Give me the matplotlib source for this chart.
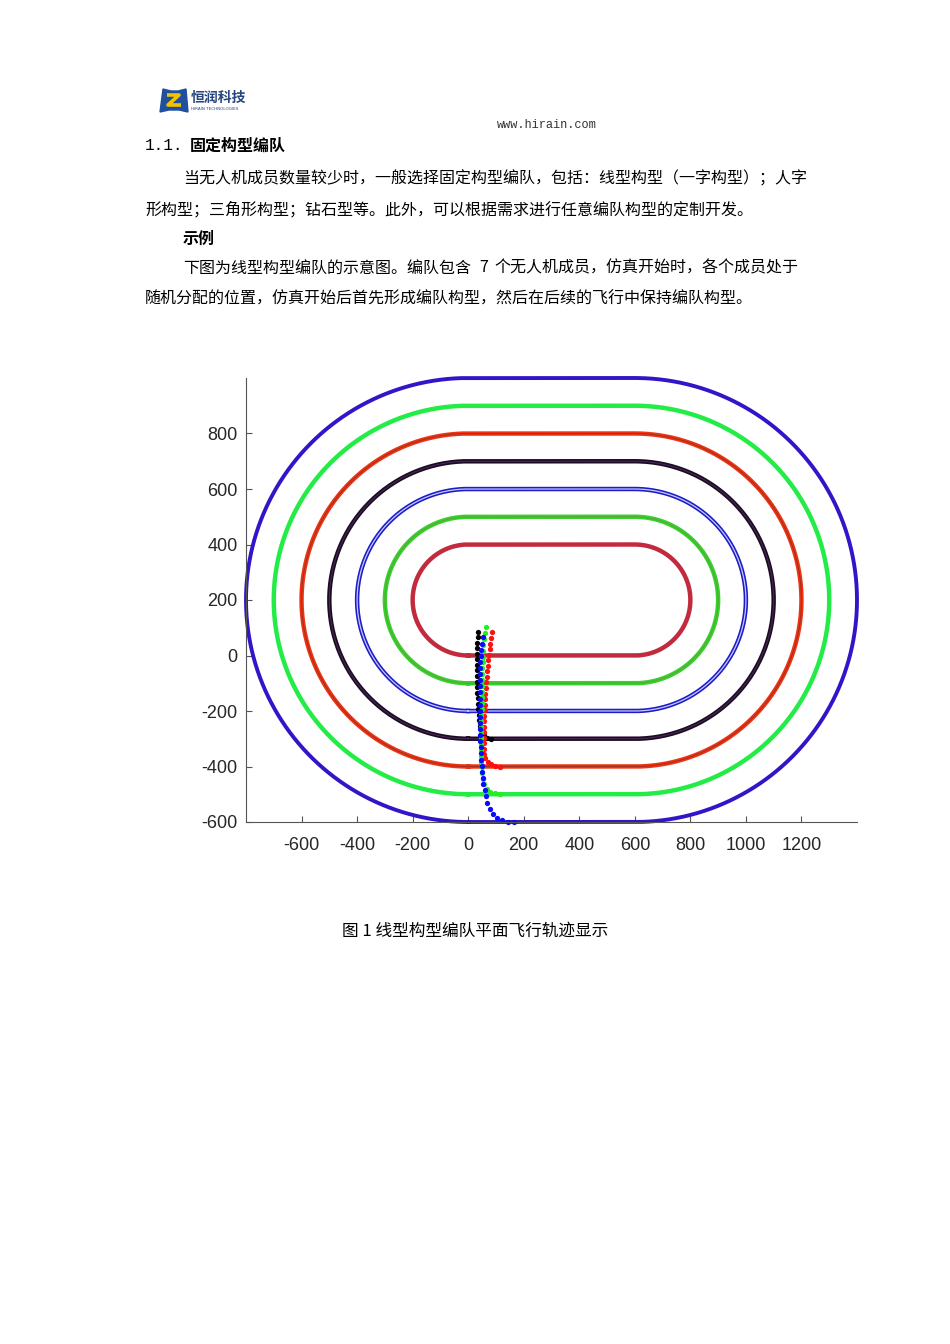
import numpy as np
import matplotlib.pyplot as plt
from matplotlib.patches import Polygon

plt.rcParams['font.family'] = ['Noto Sans CJK SC', 'DejaVu Sans']

# ---- track data: radius of each stadium loop, straight part from x=0 to x=600, centre y=200
track_radius = [200, 300, 400, 500, 600, 700, 800]
track_color = ['#c22a3e', '#35d22e', '#1c1cc8', '#1a0c22', '#ee3414', '#24ec46', '#3414c8']
track_inner = [None, '#5fa536', '#c8c8ff', '#4b2456', '#a8301a', None, None]
straight_x = [0, 600]
centre_y = 200

# ---- start-up trajectories of the four visible members
black_x = [36, 34, 33, 32, 31, 31, 31, 31, 31, 32, 32, 33, 34, 35, 36, 38, 40, 43, 48, 56, 68, 82]
black_y = [86, 66, 46, 26, 6, -14, -34, -54, -74, -94, -114, -134, -154, -174, -194, -214, -234,
           -254, -272, -287, -296, -300]
blue_x = [55, 50, 47, 45, 44, 43, 43, 42, 42, 42, 42, 42, 42, 43, 43, 43, 44, 44, 45, 46, 47, 48,
          50, 52, 55, 59, 63, 69, 77, 88, 103, 121, 142, 165]
blue_y = [65, 43, 21, -1, -23, -45, -67, -89, -111, -133, -155, -177, -199, -221, -243, -265, -287,
          -309, -331, -353, -375, -397, -419, -441, -463, -485, -507, -530, -552, -571, -585, -594,
          -599, -600]
green_x = [64, 60, 57, 55, 53, 52, 52, 51, 51, 50, 50, 49, 49, 48, 48, 47, 47, 47, 46, 46, 46, 46,
           46, 47, 48, 50, 53, 58, 66, 78, 95, 115]
green_y = [101, 80, 59, 38, 17, -4, -25, -46, -67, -88, -109, -130, -151, -172, -193, -214, -235,
           -256, -277, -298, -319, -340, -361, -382, -403, -424, -445, -464, -480, -491, -497, -500]
red_x = [85, 82, 79, 77, 75, 73, 71, 69, 67, 65, 63, 62, 61, 60, 59, 58, 57, 57, 56, 56, 56, 56,
         58, 62, 70, 82, 97, 115]
red_y = [83, 63, 43, 23, 3, -17, -37, -57, -77, -97, -117, -137, -157, -177, -197, -217, -237,
         -257, -277, -297, -317, -337, -355, -370, -382, -391, -397, -400]

x_ticks = [-600, -400, -200, 0, 200, 400, 600, 800, 1000, 1200]
y_ticks = [-600, -400, -200, 0, 200, 400, 600, 800]

W, H = 950, 1344
fig = plt.figure(figsize=(W / 100, H / 100), dpi=100)


def fx(px):
    return px / W


def fy(py):
    return 1 - py / H


# ---- page header
logo = fig.add_axes([fx(159), fy(113), 30 / W, 26 / H])
logo.set_xlim(0, 30)
logo.set_ylim(0, 26)
logo.axis('off')
logo.add_patch(Polygon([[1, 1], [4, 24], [12, 22], [19, 22], [27, 24], [29, 1], [20, 3], [10, 3]],
                       closed=True, color='#1f4f9e'))
logo.plot([8, 20, 9, 22], [18, 18, 8, 8], color='#f3c300', lw=2.6, solid_capstyle='butt')
fig.text(fx(191), fy(98), '恒润科技', fontsize=10, fontweight='bold', color='#27457e',
         va='center', ha='left')
fig.text(fx(191), fy(108.5), 'HIRAIN TECHNOLOGIES', fontsize=3, color='#27457e',
         va='center', ha='left', family='DejaVu Sans')
fig.text(fx(497), fy(125), 'www.hirain.com', fontsize=8.6, color='#333333',
         family='Liberation Mono', va='center', ha='left')

fig.text(fx(145), fy(146), '1.1.', fontsize=11.5, family='Liberation Mono', va='center', ha='left')
fig.text(fx(190), fy(146), '固定构型编队', fontsize=11.5, fontweight='bold', va='center', ha='left')

body = [
    (183, 179, '当无人机成员数量较少时，一般选择固定构型编队，包括：线型构型（一字构型）；人字', 'normal'),
    (145, 210, '形构型；三角形构型；钻石型等。此外，可以根据需求进行任意编队构型的定制开发。', 'normal'),
    (183, 239, '示例', 'bold'),
    (183, 268, '下图为线型构型编队的示意图。编队包含', 'normal'),
    (479, 268, '7', 'normal'),
    (494, 268, '个无人机成员，仿真开始时，各个成员处于', 'normal'),
    (145, 299, '随机分配的位置，仿真开始后首先形成编队构型，然后在后续的飞行中保持编队构型。', 'normal'),
]
for px, py, s, w in body:
    fig.text(fx(px), fy(py), s, fontsize=11.5, fontweight=w, va='center', ha='left')

fig.text(fx(475), fy(931), '图 1 线型构型编队平面飞行轨迹显示', fontsize=12, va='center', ha='center')

# ---- chart
ax = fig.add_axes([fx(246), fy(822), (857 - 246) / W, (822 - 378) / H])
for r, c, ic in zip(track_radius, track_color, track_inner):
    a1 = np.linspace(-np.pi / 2, np.pi / 2, 200)
    a2 = np.linspace(np.pi / 2, 3 * np.pi / 2, 200)
    xs = np.concatenate([[straight_x[0], straight_x[1]], straight_x[1] + r * np.cos(a1),
                         [straight_x[1], straight_x[0]], straight_x[0] + r * np.cos(a2)])
    ys = np.concatenate([[centre_y - r, centre_y - r], centre_y + r * np.sin(a1),
                         [centre_y + r, centre_y + r], centre_y + r * np.sin(a2)])
    ax.plot(xs, ys, color=c, lw=3.2 if r != 800 else 2.8, solid_joinstyle='round', clip_on=False)
    if ic is not None:
        ax.plot(xs, ys, color=ic, lw=0.9 if r == 400 else 0.8, clip_on=False)

for xs, ys, c in [(black_x, black_y, '#000000'), (red_x, red_y, '#ff1010'),
                  (green_x, green_y, '#22ee22'), (blue_x, blue_y, '#0a0aff')]:
    ax.plot(xs, ys, 'o', color=c, ms=3.8, mew=0, clip_on=False)

ax.set_xlim(-800, 1400)
ax.set_ylim(-600, 1000)
ax.set_xticks(x_ticks)
ax.set_yticks(y_ticks)
ax.set_xticklabels([str(v) for v in x_ticks])
ax.set_yticklabels([str(v) for v in y_ticks])
for s in ['top', 'right']:
    ax.spines[s].set_visible(False)
for s in ['left', 'bottom']:
    ax.spines[s].set_color('#555555')
    ax.spines[s].set_linewidth(0.8)
ax.tick_params(direction='in', length=4, width=0.8, color='#555555', labelsize=13,
               labelcolor='#262626')
ax.tick_params(axis='x', pad=11)
ax.tick_params(axis='y', pad=6)
for lab in ax.get_xticklabels() + ax.get_yticklabels():
    lab.set_family('Liberation Sans')

fig.savefig('out.png', dpi=100)
